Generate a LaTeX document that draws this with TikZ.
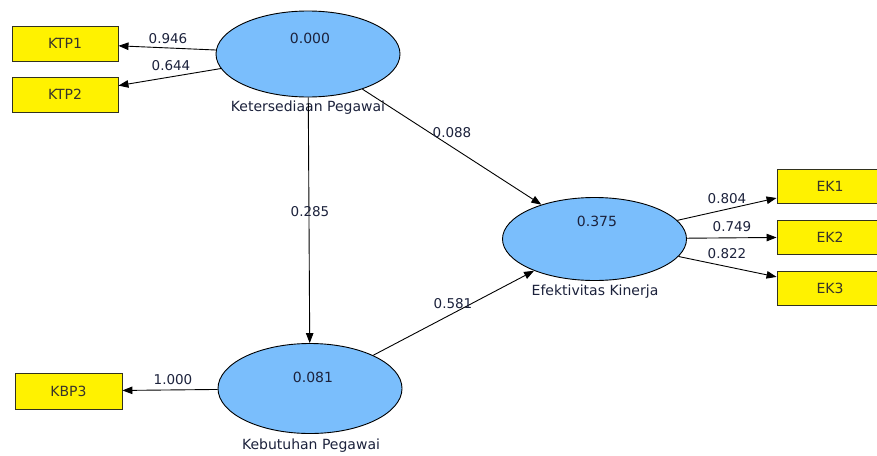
\documentclass[tikz,border=0pt]{standalone}
\usepackage{fontspec}
\setmainfont{DejaVu Sans}
\usetikzlibrary{arrows.meta,shapes.geometric}
\definecolor{lvfill}{RGB}{122,190,252}
\definecolor{txtc}{RGB}{28,34,60}
\definecolor{boxline}{RGB}{50,50,30}
\tikzset{
  lv/.style={ellipse, draw=black, fill=lvfill, line width=0.9pt, minimum width=184pt, minimum height=86pt, inner sep=0pt},
  mv/.style={rectangle, draw=boxline, fill=yellow, line width=0.9pt, minimum width=106pt, minimum height=35pt, inner sep=0pt, text=black!80!olive, font=\fontsize{14}{16}\selectfont},
  val/.style={text=txtc, font=\fontsize{14}{16}\selectfont, inner sep=0pt},
  nm/.style={text=txtc, font=\fontsize{14}{16}\selectfont, inner sep=0pt},
  cf/.style={text=txtc, font=\fontsize{13.5}{16}\selectfont, inner sep=0pt},
  path/.style={draw=black, line width=0.9pt, -{Triangle[length=10pt,width=7.5pt]}}
}
\begin{document}
\begin{tikzpicture}[x=1pt,y=-1pt]
\useasboundingbox (0,0) rectangle (877,455);
\fill[white] (0,0) rectangle (877,455);
\clip (0,0) rectangle (877,455);

% latent variables
\node[lv] (kt) at (308,54) {};
\node[lv, minimum height=83pt] (ef) at (594.5,239) {};
\node[lv, minimum height=90pt] (kb) at (310,388.5) {};

\node[val] (ktv) at (310,38) {0.000};
\node[val] (efv) at (597,221) {0.375};
\node[val] (kbv) at (313,377) {0.081};

\node[nm] (ktn) at (308,108) {Ketersediaan Pegawai};
\node[nm] (efn) at (595,292) {Efektivitas Kinerja};
\node[nm] (kbn) at (311,446) {Kebutuhan Pegawai};

% indicators
\node[mv] (ktp1) at (65,43.5) {KTP1};
\node[mv] (ktp2) at (65,94.5) {KTP2};
\node[mv, minimum width=107pt, minimum height=36pt] (kbp3) at (68.5,391) {KBP3};
\node[mv, minimum height=34pt] (ek1) at (830,186) {EK1};
\node[mv, minimum height=34pt] (ek2) at (830,237) {EK2};
\node[mv, minimum height=34pt] (ek3) at (830,288) {EK3};

% paths
\draw[path] (kt) -- (ktp1);
\draw[path] (kt) -- (ktp2);
\draw[path] (kt) -- (kb);
\draw[path] (kt) -- (ef);
\draw[path] (kb) -- (ef);
\draw[path] (kb) -- (kbp3);
\draw[path] (ef) -- (ek1);
\draw[path] (ef) -- (ek2);
\draw[path] (ef) -- (ek3);

% coefficients
\node[cf] (c1) at (168,39) {0.946};
\node[cf] (c2) at (171,66) {0.644};
\node[cf] (c3) at (310,212) {0.285};
\node[cf] (c4) at (452,133) {0.088};
\node[cf] (c5) at (453,304) {0.581};
\node[cf] (c6) at (173,380) {1.000};
\node[cf] (c7) at (727,199) {0.804};
\node[cf] (c8) at (732,227) {0.749};
\node[cf] (c9) at (727,254) {0.822};
\end{tikzpicture}
\end{document}
